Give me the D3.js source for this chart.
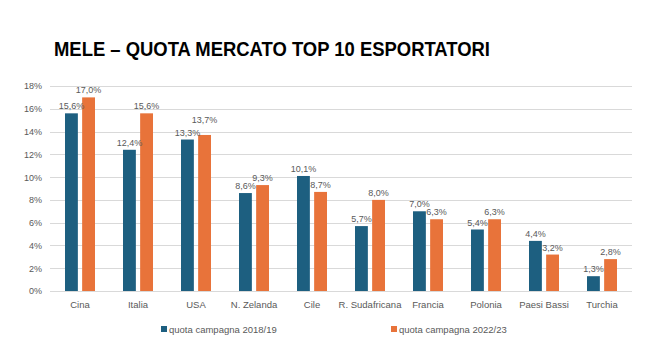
<!DOCTYPE html>
<html>
<head>
<meta charset="utf-8">
<script src="https://cdn.jsdelivr.net/npm/d3@7"></script>
<style>
  body { margin: 0; background: #fff; }
  text { font-family: "Liberation Sans", Arial, sans-serif; }
</style>
</head>
<body>
<svg width="651" height="353"></svg>
<script>
var countries = ["Cina", "Italia", "USA", "N. Zelanda", "Cile", "R. Sudafricana", "Francia", "Polonia", "Paesi Bassi", "Turchia"];
var quota1819 = [15.6, 12.4, 13.3, 8.6, 10.1, 5.7, 7.0, 5.4, 4.4, 1.3];
var quota2223 = [17.0, 15.6, 13.7, 9.3, 8.7, 8.0, 6.3, 6.3, 3.2, 2.8];
var seriesNames = ["quota campagna 2018/19", "quota campagna 2022/23"];
var yTicks = [0, 2, 4, 6, 8, 10, 12, 14, 16, 18];

var colors = ["#1d5f80", "#e8733a"];
var textGray = "#595959";

var svg = d3.select("svg");

svg.append("text")
  .attr("x", 54)
  .attr("y", 56)
  .attr("font-size", 21)
  .attr("font-weight", "bold")
  .attr("fill", "#000")
  .attr("textLength", 436)
  .attr("lengthAdjust", "spacingAndGlyphs")
  .text("MELE \u2013 QUOTA MERCATO TOP 10 ESPORTATORI");

var x0 = d3.scaleBand().domain(countries).range([51, 631]);
var x1 = d3.scaleBand().domain([0, 1]).range([0, 30]).paddingInner(0.25);
var y = d3.scaleLinear().domain([0, 18]).range([291, 86]);

// grid
svg.append("g")
  .selectAll("line")
  .data(yTicks)
  .enter()
  .append("line")
  .attr("x1", 50)
  .attr("x2", 632)
  .attr("y1", function(d) { return Math.round(y(d)) + 0.5; })
  .attr("y2", function(d) { return Math.round(y(d)) + 0.5; })
  .attr("stroke", "#d9d9d9")
  .attr("stroke-width", 1);

var yAxis = svg.append("g")
  .attr("transform", "translate(42,0)")
  .call(d3.axisLeft(y).tickValues(yTicks).tickSize(0).tickPadding(0)
    .tickFormat(function(d) { return d + "%"; }));
yAxis.select(".domain").remove();
yAxis.selectAll("text").attr("font-size", 9).attr("fill", textGray)
  .attr("font-family", "Liberation Sans, Arial, sans-serif");

var xAxis = svg.append("g")
  .attr("transform", "translate(0,298)")
  .call(d3.axisBottom(x0).tickSize(0).tickPadding(3));
xAxis.select(".domain").remove();
xAxis.selectAll("text").attr("font-size", 9.5).attr("fill", textGray)
  .attr("font-family", "Liberation Sans, Arial, sans-serif");

var rows = countries.map(function(c, i) {
  return { country: c, values: [quota1819[i], quota2223[i]] };
});

var groups = svg.append("g")
  .selectAll("g")
  .data(rows)
  .enter()
  .append("g")
  .attr("transform", function(d) {
    return "translate(" + (x0(d.country) + x0.bandwidth() / 2 - 15) + ",0)";
  });

groups.selectAll("rect")
  .data(function(d) { return d.values.map(function(v, k) { return { k: k, v: v }; }); })
  .enter()
  .append("rect")
  .attr("x", function(d) { return x1(d.k); })
  .attr("width", x1.bandwidth())
  .attr("y", function(d) { return y(d.v); })
  .attr("height", function(d) { return y(0) - y(d.v); })
  .attr("fill", function(d) { return colors[d.k]; });

// labels: push the higher one up when the two would collide
function labelY(vals, k) {
  var ya = y(vals[0]) - 4, yb = y(vals[1]) - 4;
  if (Math.abs(ya - yb) < 6) {
    var top = Math.min(ya, yb);
    if ((k === 1) === (vals[1] >= vals[0])) return top - 8;
  }
  return k === 0 ? ya : yb;
}

groups.selectAll(".lbl")
  .data(function(d) { return d.values.map(function(v, k) { return { k: k, v: v, vals: d.values }; }); })
  .enter()
  .append("text")
  .attr("class", "lbl")
  .attr("x", function(d) { return x1(d.k) + x1.bandwidth() / 2; })
  .attr("y", function(d) { return labelY(d.vals, d.k); })
  .attr("text-anchor", "middle")
  .attr("font-size", 9)
  .attr("fill", textGray)
  .text(function(d) { return d.v.toFixed(1).replace(".", ",") + "%"; });

// legend
var legendX = [161, 391];
var legend = svg.append("g")
  .selectAll("g")
  .data(seriesNames)
  .enter()
  .append("g")
  .attr("transform", function(d, i) { return "translate(" + legendX[i] + ",326)"; });

legend.append("rect")
  .attr("width", 6)
  .attr("height", 6)
  .attr("fill", function(d, i) { return colors[i]; });

legend.append("text")
  .attr("x", 8)
  .attr("y", 6.5)
  .attr("font-size", 9.5)
  .attr("fill", textGray)
  .text(function(d) { return d; });
</script>
</body>
</html>
